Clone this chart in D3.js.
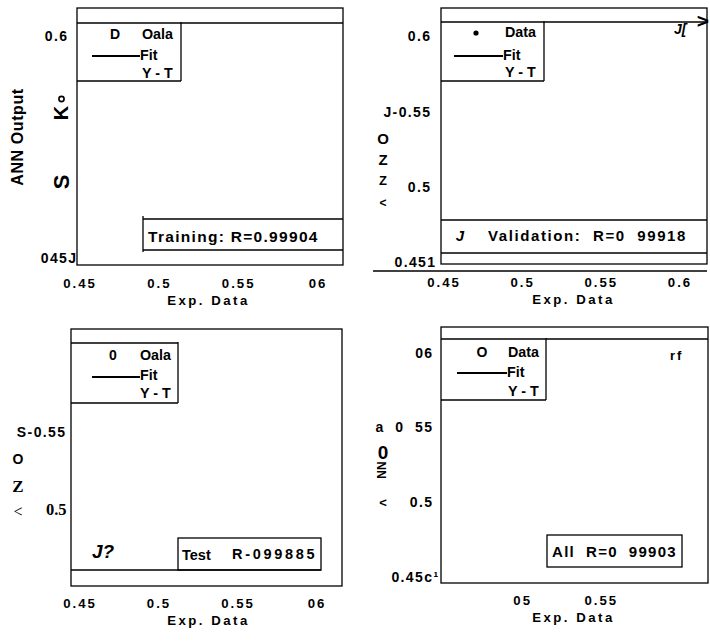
<!DOCTYPE html>
<html><head><meta charset="utf-8">
<script src="https://cdn.jsdelivr.net/npm/d3@7"></script>
<style>
body{margin:0;background:#fff;}
svg text{font-family:"Liberation Sans",Arial,sans-serif;font-weight:bold;fill:#000;white-space:pre;}
</style></head>
<body><svg id="c" width="710" height="641"></svg>
<script>
// ---- data ----
const panelNames = ["Training", "Validation", "Test", "All"];
const rTexts = ["Training: R=0.99904", "Validation:  R=0  99918", "R-099885", "All  R=0  99903"];
const legendMarkers = ["D", "•", "0", "O"];
const legendData = ["Oala", "Data", "Oala", "Data"];
const xTickValues = [[0.45,0.5,0.55,0.6],[0.45,0.5,0.55,0.6],[0.45,0.5,0.55,0.6],[0.5,0.55]];
const xTickLabels = [["0.45","0.5","0.55","06"],["0.45","0.5","0.55","0.6"],["0.45","0.5","0.55","06"],["05","0.55"]];
const yTickValues = [[0.45,0.6],[0.451,0.5,0.55,0.6],[0.5,0.55],[0.45,0.5,0.55,0.6]];
const yTickLabels = [["045J","0.6"],["0.451","0.5","J-0.55","0.6"],["0.5","S-0.55"],["0.45c\u00b9","0.5","a  0  55","06"]];
const xLabel = "Exp. Data";
const yLabel = "ANN Output";

const svg = d3.select("#c");
function txt(x, y, s, o = {}) {
  const t = svg.append("text").attr("x", x).attr("y", y).text(s)
    .attr("dominant-baseline", "middle")
    .attr("text-anchor", o.anchor || "start")
    .style("font-size", (o.size || 14) + "px")
    .style("letter-spacing", (o.ls || 0) + "px");
  if (o.italic) t.style("font-style", "italic");
  if (o.serif) t.style("font-family", "'Liberation Serif','Times New Roman',serif");
  if (o.normal) t.style("font-weight", "normal");
  if (o.rot) t.attr("transform", `rotate(${o.rot},${x},${y})`);
  return t;
}
function line(x1, y1, x2, y2, w = 1.3) {
  svg.append("line").attr("x1", x1).attr("y1", y1).attr("x2", x2).attr("y2", y2)
    .attr("stroke", "#000").attr("stroke-width", w);
}
function rect(x0, y0, x1, y1) {
  svg.append("rect").attr("x", x0).attr("y", y0).attr("width", x1 - x0).attr("height", y1 - y0)
    .attr("fill", "none").attr("stroke", "#000").attr("stroke-width", 1.3);
}

// layout per panel (pixels)
const L = [
  {box:[77,8,343,265], xr:[79,317], yr:[259,37], yd:[0.45,0.6], ytx:68.5, y0off:9, xty:285, xl:[207,302],
   leg:[77,23,181,81], mk:[115,35], dt:[142,35], ln:[92,140,56], fit:[140,56], yt:[142,74]},
  {box:[441,8,707,264], xr:[443,679], yr:[263,37], yd:[0.451,0.6], ytx:431.5, y0off:5, xty:284, xl:[572,301],
   leg:[441,22,544,81], mk:[476,33], dt:[505,33], ln:[454,503,56], fit:[503,56], yt:[505,73]},
  {box:[71,329,342,586], xr:[79,316], yr:[511,433], yd:[0.5,0.55], ytx:66.5, y0off:0, xty:605, xl:[207,622],
   leg:[71,343,178,403], mk:[113,356], dt:[140,356], ln:[92,140,377], fit:[140,376], yt:[140,394]},
  {box:[441,327,708,583], xr:[443,679], yr:[578,354], yd:[0.45,0.6], ytx:433.5, y0off:6, xty:602, xl:[572,619],
   leg:[441,339,546,400], mk:[482,353], dt:[508,353], ln:[457,507,373], fit:[507,373], yt:[508,392]}
];

panelNames.forEach((name, i) => {
  const l = L[i];
  const x = d3.scaleLinear().domain([0.45, 0.6]).range(l.xr);
  const y = d3.scaleLinear().domain(l.yd).range(l.yr);
  rect(l.box[0], l.box[1], l.box[2], l.box[3]);
  // legend box
  line(l.leg[0], l.leg[1], (i === 2 ? l.leg[2] : l.box[2]), l.leg[1]);
  line(l.leg[2], l.leg[1] - 1, l.leg[2], l.leg[3]);
  line(l.leg[0], l.leg[3], l.leg[2], l.leg[3]);
  if (legendMarkers[i] === "•") {
    svg.append("circle").attr("cx", l.mk[0]).attr("cy", l.mk[1]).attr("r", 2.6).attr("fill", "#000");
  } else {
    txt(l.mk[0], l.mk[1], legendMarkers[i], {anchor: "middle", size: 14});
  }
  txt(l.dt[0], l.dt[1], legendData[i], {size: 14.3});
  line(l.ln[0], l.ln[2], l.ln[1], l.ln[2], 2);
  txt(l.fit[0], l.fit[1], "Fit", {size: 14.3});
  txt(l.yt[0], l.yt[1], "Y - T", {size: 14.3});
  // x ticks
  xTickValues[i].forEach((v, k) => txt(x(v) + 1, l.xty, xTickLabels[i][k], {anchor: "middle", size: 13.2, ls: 2}));
  txt(l.xl[0] + 1.5, l.xl[1], xLabel, {anchor: "middle", size: 13.2, ls: 2.5});
  // y ticks
  yTickValues[i].forEach((v, k) => {
    const lab = yTickLabels[i][k];
    const serif = (i === 2 && lab === "0.5");
    txt(l.ytx + (k === 0 ? l.y0off : 0), y(v), lab,
        {anchor: "end", size: serif ? 16.5 : 14, ls: serif ? 0 : 1.4, serif});
  });
});

// Panel 1 extras
txt(19, 137, yLabel, {anchor: "middle", size: 16, rot: -90, ls: 0.6});
svg.append("circle").attr("cx", 61.5).attr("cy", 99).attr("r", 2.6)
  .attr("fill", "none").attr("stroke", "#000").attr("stroke-width", 1.6);
txt(63, 113, "K", {anchor: "middle", size: 20, rot: -90});
txt(63, 182, "S", {anchor: "middle", size: 22, rot: -90});
line(143, 216, 143, 252);
line(143, 219, 343, 219);
line(143, 250, 343, 250);
txt(148, 238, rTexts[0], {size: 15.5, ls: 1.3});

// Panel 2 extras
txt(383, 140, "O", {anchor: "middle", size: 15});
txt(383, 161, "Z", {anchor: "middle", size: 15});
txt(383, 182, "Z", {anchor: "middle", size: 13});
txt(383, 204, "<", {anchor: "middle", size: 12});
txt(674, 30, "J[", {size: 14, italic: true});
txt(703, 22, ">", {anchor: "middle", size: 21});
line(441, 220, 707, 220);
line(441, 253, 707, 253);
line(373, 271, 707, 271);
txt(460, 237, "J", {anchor: "middle", size: 15, italic: true});
txt(488, 237, rTexts[1], {size: 15, ls: 1.6});

// Panel 3 extras
txt(18, 460, "O", {anchor: "middle", size: 14});
txt(18, 488, "Z", {anchor: "middle", size: 17, serif: true});
txt(18, 513, "<", {anchor: "middle", size: 16, serif: true, normal: true});
rect(178, 538, 321, 570);
line(71, 570, 321, 570);
txt(92, 553, "J?", {size: 19, italic: true});
txt(182, 556, "Test", {size: 14.5});
txt(232, 555, rTexts[2], {size: 14.5, ls: 2.7});

// Panel 4 extras
txt(383, 454, "0", {anchor: "middle", size: 19});
txt(383, 470, "NN", {anchor: "middle", size: 12, rot: -90});
txt(383, 504, "<", {anchor: "middle", size: 13});
txt(670, 357, "rf", {size: 13, ls: 2});
rect(547, 535, 682, 567);
txt(552, 553, rTexts[3], {size: 15, ls: 1.3});
</script></body></html>
